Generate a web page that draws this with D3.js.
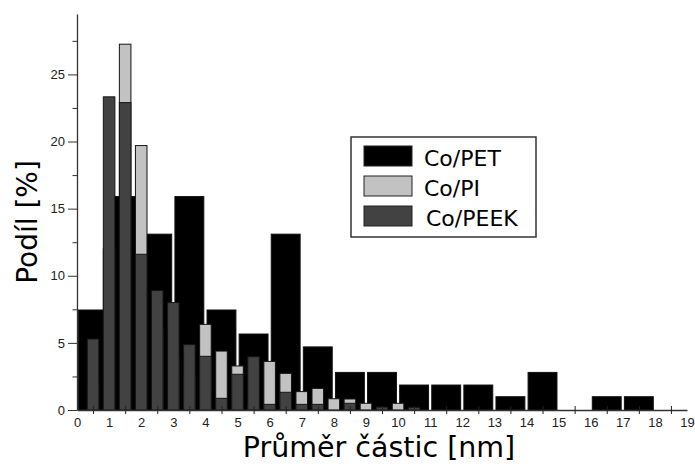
<!DOCTYPE html>
<html>
<head>
<meta charset="utf-8">
<script src="https://cdn.jsdelivr.net/npm/d3@7"></script>
<style>
  body { margin: 0; background: #fff; }
  svg { display: block; }
</style>
</head>
<body>
<div id="chart"></div>
<script>
// Co/PET in 1 nm bins (centres), Co/PI and Co/PEEK in 0.5 nm bins
const petCenters = [0.5, 1.5, 2.5, 3.5, 4.5, 5.5, 6.5, 7.5, 8.5, 9.5, 10.5, 11.5, 12.5, 13.5, 14.5, 15.5, 16.5, 17.5];
const petValues = [7.45, 15.9, 13.1, 15.9, 7.45, 5.66, 13.1, 4.7, 2.8, 2.8, 1.86, 1.86, 1.86, 0.99, 2.8, 0, 0.99, 0.99];

const halfCenters = [0.5, 1, 1.5, 2, 2.5, 3, 3.5, 4, 4.5, 5, 5.5, 6, 6.5, 7, 7.5, 8, 8.5, 9, 9.5, 10, 10.5];
const piValues = [2.0, 12.0, 27.25, 19.7, 6.0, 4.0, 2.5, 6.38, 4.39, 3.28, 0.5, 3.62, 2.73, 1.37, 1.61, 0.84, 0.82, 0.5, 0, 0.5, 0];
const peekValues = [5.29, 23.33, 22.9, 11.6, 8.9, 8.0, 4.87, 4.0, 0.87, 2.66, 3.97, 0.42, 1.32, 0.42, 0.42, 0, 0.5, 0, 0.22, 0, 0.2];

const seriesNames = ['Co/PET', 'Co/PI', 'Co/PEEK'];
const seriesColors = ['#000000', '#c2c2c2', '#424242'];

const yMajorTicks = [0, 5, 10, 15, 20, 25];
const yMinorTicks = [2.5, 7.5, 12.5, 17.5, 22.5, 27.5];
const xLabelTicks = d3.range(0, 20);
const xMarkTicks = d3.range(0.5, 19, 1);

const width = 695, height = 464;

const svg = d3.select('#chart').append('svg')
    .attr('width', width)
    .attr('height', height);

const x = d3.scaleLinear().domain([0, 19]).range([77, 687]);
const y = d3.scaleLinear().domain([0, 29.5]).range([410, 14]);

const bars = svg.append('g');

// PET bars (wide, behind)
bars.selectAll('rect.pet')
    .data(petCenters.map((c, i) => ({c, v: petValues[i]})).filter(d => d.v > 0))
    .enter().append('rect')
    .attr('class', 'pet')
    .attr('x', d => x(d.c - 0.45))
    .attr('width', d => x(d.c + 0.45) - x(d.c - 0.45))
    .attr('y', d => y(d.v))
    .attr('height', d => y(0) - y(d.v))
    .attr('fill', seriesColors[0])
    .attr('stroke', '#111')
    .attr('stroke-width', 1);

const narrow = (values, cls, color) => {
    bars.selectAll('rect.' + cls)
        .data(halfCenters.map((c, i) => ({c, v: values[i]})).filter(d => d.v > 0))
        .enter().append('rect')
        .attr('class', cls)
        .attr('x', d => x(d.c - 0.18))
        .attr('width', d => x(d.c + 0.18) - x(d.c - 0.18))
        .attr('y', d => y(d.v))
        .attr('height', d => y(0) - y(d.v))
        .attr('fill', color)
        .attr('stroke', '#151515')
        .attr('stroke-width', 1);
};
narrow(piValues, 'pi', seriesColors[1]);
narrow(peekValues, 'peek', seriesColors[2]);

// x axis: crossing tick marks at bin centres, labels at integers
const xMarks = svg.append('g')
    .attr('transform', `translate(0,${y(0)})`)
    .call(d3.axisBottom(x).tickValues(xMarkTicks).tickSizeOuter(0).tickFormat(''));
xMarks.selectAll('.tick line').attr('y1', -4).attr('y2', 4).attr('stroke', '#222');
xMarks.select('.domain').attr('stroke', '#333').attr('stroke-width', 1.3);

const xLabels = svg.append('g')
    .attr('transform', `translate(0,${y(0)})`)
    .call(d3.axisBottom(x).tickValues(xLabelTicks).tickSize(0).tickPadding(8));
xLabels.select('.domain').remove();
xLabels.selectAll('text')
    .attr('font-family', 'Liberation Sans, Arial, sans-serif')
    .attr('font-size', 13)
    .attr('fill', '#222');

// y axis
const yAxis = svg.append('g')
    .attr('transform', `translate(${x(0)},0)`)
    .call(d3.axisLeft(y).tickValues(yMajorTicks).tickSize(9).tickSizeOuter(0).tickPadding(3));
yAxis.select('.domain').attr('stroke', '#333').attr('stroke-width', 1.3);
yAxis.selectAll('.tick line').attr('stroke', '#333');
yAxis.selectAll('text')
    .attr('font-family', 'Liberation Sans, Arial, sans-serif')
    .attr('font-size', 13)
    .attr('fill', '#222');

const yMinor = svg.append('g')
    .attr('transform', `translate(${x(0)},0)`)
    .call(d3.axisLeft(y).tickValues(yMinorTicks).tickSize(4.5).tickFormat(''));
yMinor.select('.domain').remove();
yMinor.selectAll('.tick line').attr('stroke', '#333');

// titles
svg.append('text')
    .attr('x', 379)
    .attr('y', 457)
    .attr('text-anchor', 'middle')
    .attr('font-family', 'DejaVu Sans, sans-serif')
    .attr('font-size', 28.5)
    .attr('fill', '#000')
    .text('Průměr částic [nm]');

svg.append('text')
    .attr('transform', 'translate(37,222) rotate(-90)')
    .attr('text-anchor', 'middle')
    .attr('font-family', 'DejaVu Sans, sans-serif')
    .attr('font-size', 28)
    .attr('fill', '#000')
    .text('Podíl [%]');

// legend
const legend = svg.append('g');
legend.append('rect')
    .attr('x', 351).attr('y', 137)
    .attr('width', 185).attr('height', 100)
    .attr('fill', '#fff')
    .attr('stroke', '#333')
    .attr('stroke-width', 1.5);

seriesNames.forEach((name, i) => {
    legend.append('rect')
        .attr('x', 364).attr('y', 146 + i * 30)
        .attr('width', 48).attr('height', 20)
        .attr('fill', seriesColors[i])
        .attr('stroke', '#222')
        .attr('stroke-width', 1);
    legend.append('text')
        .attr('x', 424 + (i === 2 ? 2 : 0))
        .attr('y', 166 + i * 30)
        .attr('font-family', 'DejaVu Sans, sans-serif')
        .attr('font-size', 22)
        .attr('fill', '#000')
        .text(name);
});
</script>
</body>
</html>
